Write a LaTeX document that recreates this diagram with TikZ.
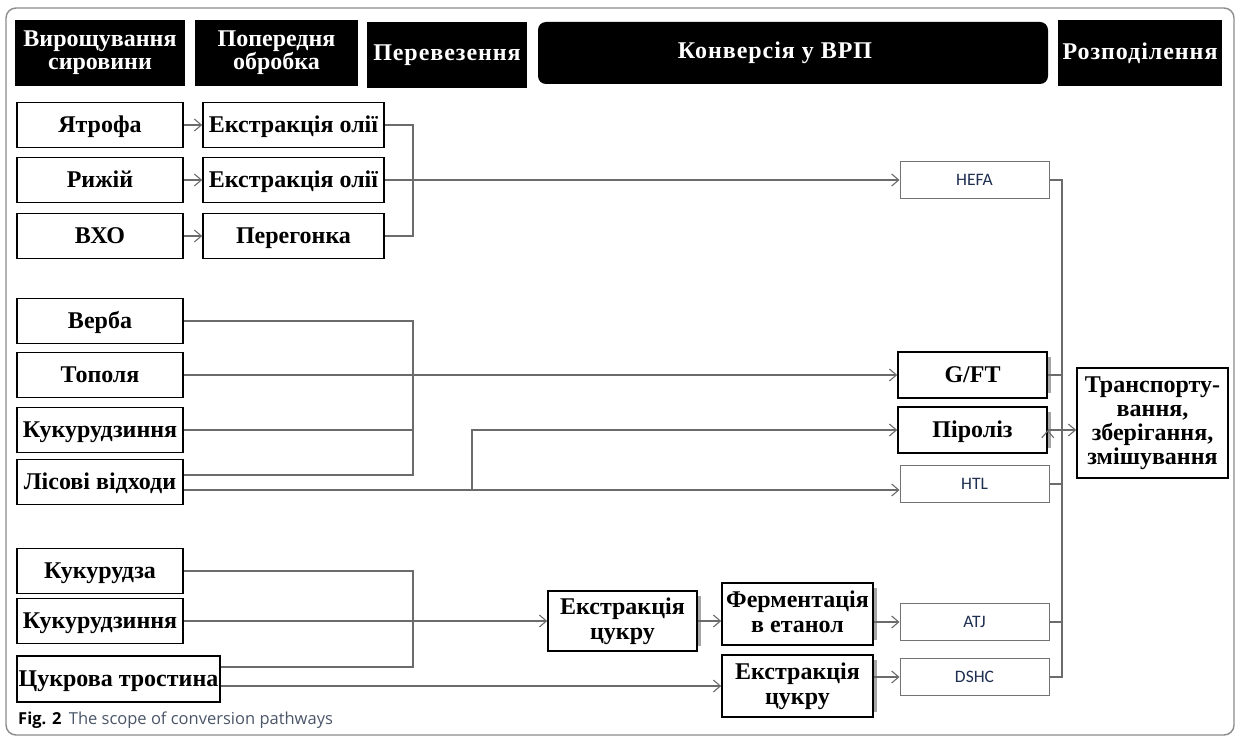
\documentclass[tikz,border=0pt]{standalone}
\usepackage{fontspec}
\setmainfont{Liberation Serif}
\newfontfamily\labfont{Carlito}
\newfontfamily\capfont{Open Sans}
\usepackage{xcolor}
\usetikzlibrary{arrows.meta}
\usetikzlibrary{positioning}

\definecolor{navy}{HTML}{1F2F50}
\definecolor{capgray}{HTML}{4A5568}

\begin{document}
\begin{tikzpicture}[x=1pt, y=-1pt, >={Straight Barb[length=7pt,width=12pt]}]
\tikzstyle{head} = [fill=black, text=white, inner sep=0pt, align=center, font=\bfseries\fontsize{24}{23}\selectfont]
\tikzstyle{spaced} = [font=\bfseries\fontsize{24}{23}\selectfont\addfontfeature{LetterSpace=4}]
\tikzstyle{crop} = [draw=black, line width=1.6pt, fill=white, inner sep=0pt, align=center, minimum width=166, minimum height=45, font=\bfseries\fontsize{24}{25}\selectfont, execute at begin node={\vphantom{Й}}, execute at end node={\vphantom{у}}]
\tikzstyle{route} = [draw=black!55, line width=1pt, fill=white, inner sep=0pt, minimum width=149, minimum height=37, text=navy, font=\labfont\fontsize{17.5}{18}\selectfont]
\tikzstyle{link} = [draw=black!58, line width=1.1pt]

\useasboundingbox (0,0) rectangle (1238,738);
\draw[black!45, line width=1.4pt, rounded corners=10pt] (6,8) rectangle (1234,735);

% stage headers
\node[head, minimum width=170, minimum height=66] (grow) at (100,53) {Вирощування\\сировини};
\node[head, minimum width=163, minimum height=66] (prep) at (276.5,53) {Попередня\\обробка};
\node[head, spaced, minimum width=160, minimum height=66] (haul) at (447,55) {Перевезення};
\node[head, spaced, minimum width=510, minimum height=62, rounded corners=8pt] (conv) at (793,53) {Конверсія у ВРП\hspace*{36pt}};
\node[head, spaced, minimum width=164, minimum height=66] (distr) at (1140,53) {Розподілення};

% oil crops
\node[crop] (jatropha) at (100,125) {Ятрофа};
\node[crop] (camelina) at (100,180) {Рижій};
\node[crop] (fog) at (100,236) {ВХО};
\node[crop, minimum width=181] (oil1) at (293.5,125) {Екстракція олії};
\node[crop, minimum width=181] (oil2) at (293.5,180) {Екстракція олії};
\node[crop, minimum width=181] (distil) at (293.5,236) {Перегонка};

% wood crops
\node[crop] (willow) at (100,321) {Верба};
\node[crop] (poplar) at (100,375) {Тополя};
\node[crop] (stover1) at (100,430) {Кукурудзиння};
\node[crop] (forest) at (100,482) {Лісові відходи};

% sugar crops
\node[crop] (maize) at (100,571) {Кукурудза};
\node[crop] (stover2) at (100,621) {Кукурудзиння};
\node[crop, minimum width=203, minimum height=46] (cane) at (118.5,679) {Цукрова тростина};
\node[crop, minimum width=149, minimum height=60] (sugar1) at (622.5,621) {Екстракція\\цукру};
\node[crop, minimum width=151, minimum height=62] (ferment) at (797.5,614) {Ферментація\\в етанол};
\node[crop, minimum width=151, minimum height=62] (sugar2) at (797.5,686) {Екстракція\\цукру};

% conversion routes
\node[route] (hefa) at (974.5,180) {HEFA};
\node[crop, minimum width=149, minimum height=46] (gft) at (972.5,375) {G/FT};
\node[crop, minimum width=149, minimum height=46] (pyro) at (972.5,430) {Піроліз};
\node[route] (htl) at (974.5,484) {HTL};
\node[route] (atj) at (974.5,622) {ATJ};
\node[route] (dshc) at (974.5,677) {DSHC};
\node[crop, minimum width=151, minimum height=110, font=\bfseries\fontsize{24}{24}\selectfont] (trans) at (1152.5,423) {Транспорту-\\вання,\\зберігання,\\змішування};

\foreach \n in {gft,pyro,sugar1,ferment,sugar2}
  \draw[black!35, line width=3pt] ([xshift=1.5pt,yshift=-6pt]\n.north east) -- ([xshift=1.5pt,yshift=6pt]\n.south east);

\node[anchor=west, inner sep=0pt, font=\capfont\fontsize{16.5}{18}\selectfont] (caption) at (18,720) {\textbf{Fig. 2}\hspace{0.45em}\textcolor{capgray}{The scope of conversion pathways}};

\coordinate (oiljoin) at (413,180);
\coordinate (woodjoin) at (413,375);
\coordinate (sugarjoin) at (413,621);
\coordinate (forestup) at ([yshift=7pt]forest.east);
\coordinate (forestlow) at ([yshift=-8pt]forest.east);
\coordinate (pyrojoin) at (472,490);
\coordinate (caneup) at ([yshift=12pt]cane.east);
\coordinate (canelow) at ([yshift=-7pt]cane.east);
\coordinate (collect) at (1062,430);

\path[link, ->] (jatropha) edge (oil1)
	(camelina) edge (oil2)
	(fog) edge (distil)
	(oil2.east) edge (oil2.east -| hefa.west)
	(poplar.east) edge (gft.west)
	(forestlow) edge (forestlow -| htl.west)
	(stover2.east) edge (sugar1.west)
	(canelow) edge (canelow -| sugar2.west)
	(sugar1.east) edge (sugar1.east -| ferment.west)
	(ferment.east |- atj.west) edge (atj.west)
	(sugar2.east |- dshc.west) edge (dshc.west)
	(pyro.east) edge (pyro.east -| trans.west)
	;

\draw[link] (oil1.east) -| (oiljoin) (distil.east) -| (oiljoin);
\draw[link] (willow.east) -| (woodjoin) (stover1.east) -| (woodjoin) (forestup) -| (woodjoin);
\draw[link, ->] (pyrojoin) |- (pyro.west);
\draw[link] (maize.east) -| (sugarjoin) (caneup) -| (sugarjoin);
\draw[link] (hefa.east) -| (collect) (gft.east) -| (collect) (htl.east) -| (collect)
	(atj.east) -| (collect) (dshc.east) -| (collect);

\end{tikzpicture}
\end{document}
